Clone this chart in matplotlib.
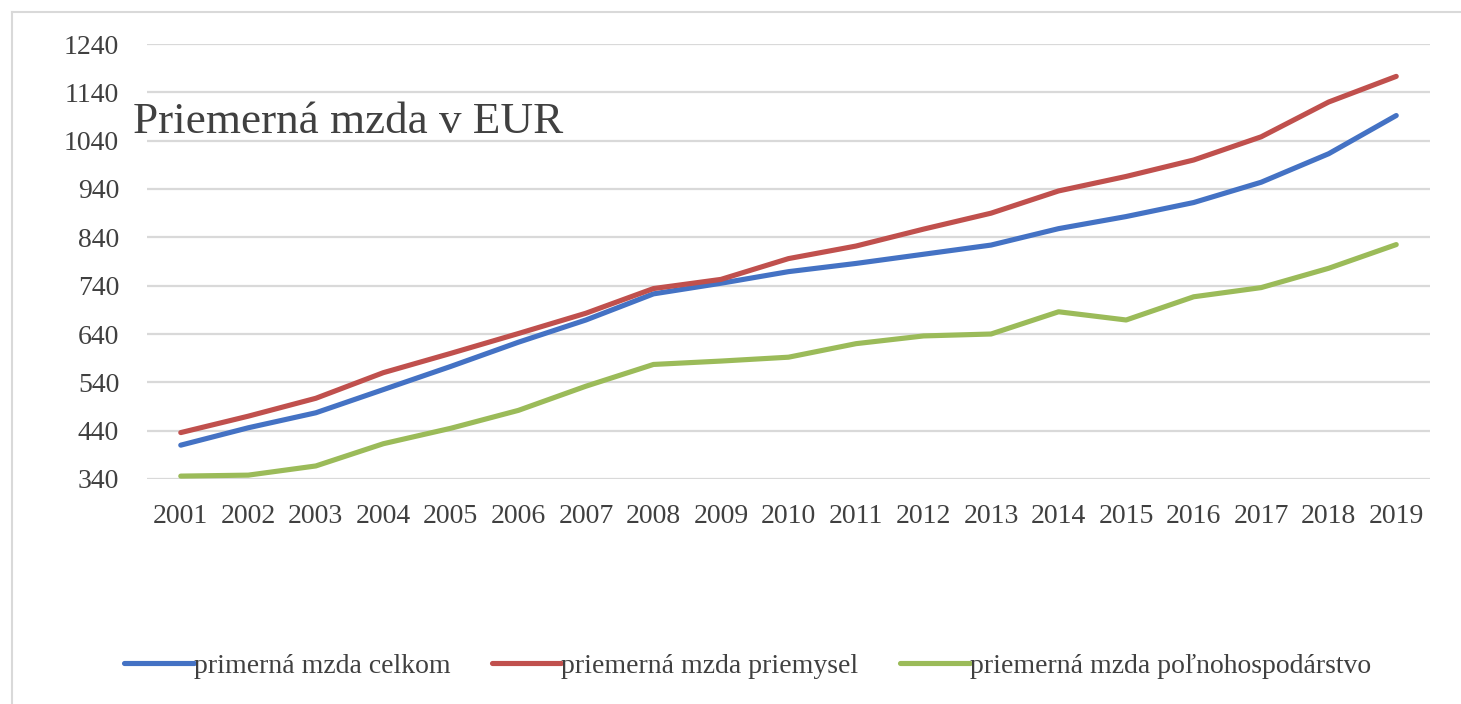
"""Priemerná mzda v EUR, 2001-2019 (celkom, priemysel, poľnohospodárstvo)."""

import matplotlib

matplotlib.use("Agg")
import matplotlib.pyplot as plt
from matplotlib.lines import Line2D

plt.rcParams["font.family"] = ["Liberation Serif", "DejaVu Serif"]

years = list(range(2001, 2020))
celkom = [410, 446, 477, 525, 573, 623, 669, 723, 745, 769,
          786, 805, 824, 858, 883, 912, 954, 1013, 1092]
priemysel = [436, 470, 507, 560, 600, 641, 683, 734, 753, 796,
             822, 857, 890, 936, 966, 1000, 1048, 1120, 1173]
polnohosp = [346, 348, 367, 413, 445, 482, 532, 577, 584, 592,
             620, 636, 640, 686, 669, 717, 736, 776, 825]
labels = ["primerná mzda celkom", "priemerná mzda priemysel",
          "priemerná mzda poľnohospodárstvo"]
colors = ["#4472C4", "#C0504D", "#9BBB59"]
yticks = list(range(340, 1241, 100))

W, H = 1461, 704
fig = plt.figure(figsize=(W / 100, H / 100), dpi=100)
ax = fig.add_axes([147 / W, 1 - 479 / H, (1430 - 147) / W, (479 - 44) / H])

for ys, lab, c in zip([celkom, priemysel, polnohosp], labels, colors):
    ax.plot(years, ys, color=c, lw=3.7, label=lab, solid_capstyle="round")

ax.set_xlim(2000.5, 2019.5)
ax.set_ylim(340, 1240)
ax.set_yticks(yticks)
ax.set_xticks(years)
ax.tick_params(length=0, labelsize=20, labelcolor="#404040")
ax.tick_params(axis="y", pad=20)
ax.tick_params(axis="x", pad=18)
ax.grid(axis="y", color="#D9D9D9", lw=1.6)
ax.set_axisbelow(True)
for s in ax.spines.values():
    s.set_visible(False)

ax.text(133 / W, 1 - 122 / H, "Priemerná mzda v EUR", transform=fig.transFigure,
        fontsize=32.5, color="#404040", va="center", ha="left")

fig.legend(loc="center", bbox_to_anchor=(0.5116, 1 - 666 / H), ncol=3, frameon=False,
           fontsize=20, labelcolor="#404040", handlelength=2.5, handletextpad=0.0,
           columnspacing=1.5)

# rámik grafu
fig.add_artist(Line2D([12 / W, 12 / W], [0, 1 - 12 / H], color="#D9D9D9", lw=1.5,
                      transform=fig.transFigure))
fig.add_artist(Line2D([12 / W, 1], [1 - 12 / H, 1 - 12 / H], color="#D9D9D9", lw=1.5,
                      transform=fig.transFigure))

fig.savefig("out.png", dpi=100)
